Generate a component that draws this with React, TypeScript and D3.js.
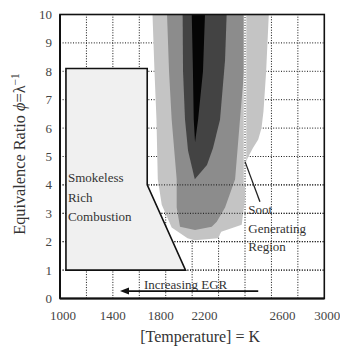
import * as d3 from "d3";

// axis ticks
const xTicks = [1000, 1400, 1800, 2200, 2600, 3000];
const yTicks = [0, 1, 2, 3, 4, 5, 6, 7, 8, 9, 10];
const gridT = [1200, 1400, 1600, 1800, 2000, 2200, 2400, 2600, 2800];
const gridPhi = [1, 2, 3, 4, 5, 6, 7, 8, 9];

// smokeless rich combustion zone [T, phi]
const smokeless: [number, number][] = [
  [1045, 1], [1045, 8.1], [1660, 8.1], [1660, 4], [1950, 1],
];

// soot contours, outer to inner [T, phi]
const sootLight: [number, number][] = [
  [1700, 10], [1715, 8], [1730, 6.3], [1740, 4.2], [1770, 3.3], [1845, 2.5],
  [1965, 2.12], [2020, 2.05], [2195, 2.12], [2220, 2.35], [2375, 2.6],
  [2400, 3.5], [2400, 4.7], [2420, 4.95], [2460, 5.3], [2500, 5.6],
  [2525, 6.0], [2540, 6.6], [2560, 8], [2580, 10],
];
const sootMid: [number, number][] = [
  [1810, 10], [1825, 8], [1845, 6.3], [1883, 4.2], [1883, 3.2], [1908, 2.53],
  [2022, 2.41], [2148, 2.53], [2186, 2.7], [2249, 3.2], [2325, 4.2],
  [2362, 6.3], [2400, 8.4], [2405, 10],
];
const sootDark: [number, number][] = [
  [1928, 10], [1931, 8], [1946, 6.3], [1969, 5.2], [2020, 4.2],
  [2112, 4.7], [2158, 5.3], [2211, 6.3], [2249, 8.4], [2261, 10],
];
const sootCore: [number, number][] = [
  [1997, 10], [2006, 8], [2012, 6.3], [2022, 5.5], [2045, 6.3], [2082, 8], [2097, 10],
];

// EGR arrow (from, to) in K at phi level
const egrArrow = [2500, 1454];
const egrPhi = 0.26;

// the printed tick labels sit a little off their grid lines (px)
const xLabelShift = [3, 0, -5, -14, 11, 3];

const W = 340;
const H = 347;
const font = "'Liberation Serif', 'Times New Roman', serif";

export default function App() {
  const x = d3.scaleLinear().domain([1000, 3000]).range([60, 324.3]);
  const y = d3.scaleLinear().domain([0, 10]).range([298.5, 14.5]);
  const line = d3
    .line<[number, number]>()
    .x((d) => x(d[0]))
    .y((d) => y(d[1]));
  const poly = (pts: [number, number][]) => line(pts) + "Z";

  const dot = "1 1.6";
  const [x0, x1] = x.range();
  const [y0, y1] = y.range();

  const ax = x(egrArrow[1]);
  const ay = y(egrPhi);

  return (
    <svg
      width={W}
      height={H}
      style={{ position: "absolute", left: 0, top: 0, background: "#fff" }}
      fontFamily={font}
    >
      {/* grid behind */}
      <g stroke="#111" strokeWidth={1} strokeDasharray={dot}>
        {gridT.map((t) => (
          <line key={"gt" + t} x1={x(t)} x2={x(t)} y1={y0} y2={y1} />
        ))}
        {gridPhi.map((p) => (
          <line key={"gp" + p} x1={x0} x2={x1} y1={y(p)} y2={y(p)} />
        ))}
      </g>

      {/* soot region */}
      <path d={poly(sootLight)} fill="#c4c4c4" />
      <path d={poly(sootMid)} fill="#8c8c8c" />
      <path d={poly(sootDark)} fill="#434343" />
      <path d={poly(sootCore)} fill="#050505" />

      {/* grid lines that show over the soot region */}
      <g stroke="#111" strokeWidth={1} strokeDasharray={dot}>
        <line x1={x(2400)} x2={x(2400)} y1={y(10)} y2={y(4)} stroke="#fff" strokeWidth={2.5} strokeDasharray="none" />
        <line x1={x(2400)} x2={x(2400)} y1={y(10)} y2={y(4)} />
        {gridPhi
          .filter((p) => p <= 4)
          .map((p) => (
            <line key={"go" + p} x1={x0} x2={x1} y1={y(p)} y2={y(p)} />
          ))}
      </g>

      {/* smokeless zone */}
      <path d={poly(smokeless)} fill="#f0f0f0" stroke="#111" strokeWidth={1.6} strokeLinejoin="miter" />

      {/* leader line to soot region */}
      <line x1={x(2400)} y1={y(4.82)} x2={x(2513)} y2={y(3.41)} stroke="#222" strokeWidth={1.3} />

      {/* annotations */}
      <g fontSize={13} fill="#333">
        <text x={x(1060)} y={y(4.11)}>Smokeless</text>
        <text x={x(1060)} y={y(3.4)}>Rich</text>
        <text x={x(1060)} y={y(2.74)}>Combustion</text>
        <text x={x(2425)} y={y(2.98)}>Soot</text>
        <text x={x(2425)} y={y(2.32)}>Generating</text>
        <text x={x(2425)} y={y(1.67)}>Region</text>
        <text x={x(1635)} y={y(0.33)}>Increasing EGR</text>
      </g>

      {/* EGR arrow */}
      <line x1={x(egrArrow[0])} x2={ax + 6} y1={ay} y2={ay} stroke="#111" strokeWidth={1.6} />
      <path d={`M${ax},${ay} L${ax + 9},${ay - 3.5} L${ax + 9},${ay + 3.5} Z`} fill="#111" />

      {/* frame */}
      <rect x={x0} y={y1} width={x1 - x0} height={y0 - y1} fill="none" stroke="#111" strokeWidth={1.6} />
      <line x1={x0} x2={x0} y1={y1} y2={y0} stroke="#111" strokeWidth={2} />
      <line x1={x0} x2={x1} y1={y0} y2={y0} stroke="#111" strokeWidth={2} />

      {/* tick labels */}
      <g fontSize={13} fill="#444">
        {xTicks.map((t, i) => (
          <text key={"xt" + t} x={x(t) + xLabelShift[i]} y={320} textAnchor="middle">
            {t}
          </text>
        ))}
        {yTicks.map((p) => (
          <text key={"yt" + p} x={52} y={y(p)} dy="0.35em" textAnchor="end">
            {p}
          </text>
        ))}
      </g>

      {/* axis titles */}
      <text x={x(2060)} y={342} textAnchor="middle" fontSize={16} fill="#333">
        [Temperature] = K
      </text>
      <text
        transform={`translate(25,154) rotate(-90)`}
        textAnchor="middle"
        fontSize={16.3}
        fill="#333"
      >
        Equivalence Ratio <tspan fontStyle="italic">ϕ</tspan>=λ
        <tspan dy="-6" fontSize={11.5}>−1</tspan>
      </text>
    </svg>
  );
}
